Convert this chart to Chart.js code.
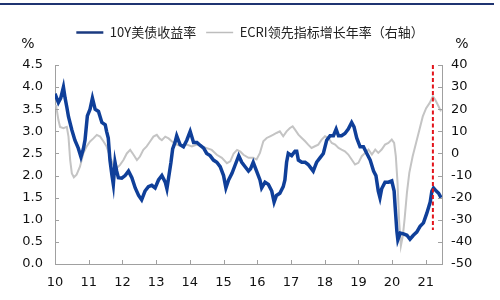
<!DOCTYPE html>
<html><head><meta charset="utf-8">
<script src="https://cdn.jsdelivr.net/npm/chart.js@4"></script>
<style>html,body{margin:0;padding:0;background:#fff;}#wrap{width:500px;height:300px;position:relative;}</style>
</head><body><div id="wrap"><canvas id="c" width="500" height="300"></canvas></div>
<script>
const seriesNames = ['10Y美债收益率', 'ECRI领先指标增长年率（右轴）'];
const yearTicks = [2010,2011,2012,2013,2014,2015,2016,2017,2018,2019,2020,2021];
const leftTicks = [0,0.5,1,1.5,2,2.5,3,3.5,4,4.5];
const rightTicks = [-50,-40,-30,-20,-10,0,10,20,30,40];
const markerYear = 2021.21;
const markerRange = [4.5, 0.77];

const blueYears = [2010.00,2010.05,2010.10,2010.17,2010.25,2010.30,2010.35,2010.40,2010.50,2010.59,2010.69,2010.77,2010.84,2010.89,2010.96,2011.04,2011.11,2011.19,2011.29,2011.39,2011.49,2011.53,2011.58,2011.63,2011.69,2011.73,2011.78,2011.83,2011.88,2011.98,2012.08,2012.18,2012.28,2012.38,2012.48,2012.57,2012.67,2012.77,2012.87,2012.97,2013.07,2013.17,2013.27,2013.32,2013.37,2013.44,2013.49,2013.56,2013.61,2013.71,2013.81,2013.91,2014.01,2014.11,2014.21,2014.31,2014.41,2014.50,2014.60,2014.70,2014.80,2014.90,2015.00,2015.07,2015.15,2015.25,2015.35,2015.45,2015.54,2015.64,2015.74,2015.80,2015.88,2015.98,2016.08,2016.13,2016.23,2016.33,2016.43,2016.50,2016.57,2016.67,2016.77,2016.82,2016.87,2016.92,2017.02,2017.12,2017.17,2017.22,2017.32,2017.42,2017.51,2017.61,2017.66,2017.76,2017.86,2017.96,2018.06,2018.16,2018.26,2018.34,2018.41,2018.50,2018.60,2018.70,2018.80,2018.87,2018.95,2019.05,2019.15,2019.25,2019.35,2019.45,2019.52,2019.59,2019.64,2019.69,2019.79,2019.89,2019.99,2020.06,2020.09,2020.14,2020.17,2020.24,2020.34,2020.44,2020.53,2020.63,2020.73,2020.83,2020.93,2021.03,2021.13,2021.18,2021.23,2021.31,2021.38,2021.45];
const blueValues = [3.85,3.75,3.65,3.75,4.0,3.75,3.55,3.33,3.03,2.8,2.62,2.42,2.6,2.8,3.35,3.5,3.75,3.5,3.45,3.2,3.15,3.0,2.85,2.35,2.0,1.8,2.3,2.1,1.95,1.94,2.0,2.1,1.95,1.72,1.55,1.45,1.65,1.75,1.78,1.72,1.9,2.0,1.85,1.7,1.95,2.3,2.6,2.75,2.9,2.7,2.65,2.8,3.0,2.75,2.75,2.68,2.62,2.5,2.45,2.35,2.3,2.2,2.0,1.72,1.9,2.05,2.25,2.45,2.3,2.2,2.1,2.15,2.3,2.1,1.9,1.72,1.85,1.8,1.65,1.4,1.55,1.6,1.75,1.9,2.3,2.5,2.45,2.55,2.55,2.35,2.3,2.3,2.25,2.15,2.1,2.3,2.4,2.5,2.8,2.9,2.9,3.05,2.9,2.9,2.95,3.05,3.2,3.1,2.85,2.65,2.65,2.5,2.35,2.1,2.0,1.65,1.5,1.7,1.85,1.85,1.88,1.65,1.3,0.75,0.55,0.7,0.68,0.65,0.56,0.65,0.72,0.85,0.93,1.15,1.4,1.65,1.72,1.65,1.6,1.5];

const grayYears = [2010.03,2010.10,2010.15,2010.25,2010.35,2010.40,2010.45,2010.50,2010.56,2010.64,2010.74,2010.84,2010.94,2011.04,2011.14,2011.24,2011.34,2011.44,2011.53,2011.63,2011.73,2011.83,2011.93,2012.03,2012.13,2012.23,2012.33,2012.43,2012.52,2012.62,2012.72,2012.82,2012.92,2013.02,2013.10,2013.17,2013.27,2013.37,2013.47,2013.61,2013.76,2013.91,2014.06,2014.21,2014.36,2014.50,2014.65,2014.80,2014.95,2015.10,2015.20,2015.30,2015.40,2015.50,2015.59,2015.74,2015.88,2015.98,2016.08,2016.18,2016.28,2016.38,2016.48,2016.57,2016.67,2016.77,2016.87,2016.97,2017.05,2017.12,2017.22,2017.32,2017.42,2017.51,2017.61,2017.71,2017.81,2017.91,2018.01,2018.11,2018.21,2018.31,2018.41,2018.50,2018.60,2018.70,2018.80,2018.90,2019.00,2019.10,2019.20,2019.30,2019.40,2019.50,2019.59,2019.69,2019.79,2019.89,2019.99,2020.06,2020.11,2020.16,2020.21,2020.26,2020.32,2020.37,2020.44,2020.51,2020.61,2020.71,2020.81,2020.91,2021.01,2021.11,2021.21,2021.28,2021.38,2021.45];
const grayValues = [22,15.2,12,11.4,12,7.6,-3,-9,-10.8,-9.6,-6,0,3.2,5.4,6.8,8.4,7.6,5.4,3.2,-1.4,-5.2,-6.6,-5.2,-3,0,1.6,-0.6,-3,-1.4,1.6,3.2,5.4,7.6,8.4,6.8,6,7.6,6.8,5.4,4,3.2,4,3.2,4,3.2,2.4,1.6,-0.6,-2,-4.4,-3.6,0,1.6,0.8,-0.6,-2,-2,-2.75,0.25,5.5,7,7.75,8.5,9.25,10,7.75,10,11.5,12.25,10.75,8.5,7,5.5,4,2.5,3.25,4,6.25,7.75,7,4.75,4,2.5,1.75,1,-0.5,-2.75,-5,-4.25,-1.25,0.25,1.75,-0.5,1.75,0.25,1.75,4,4.75,6.25,4.75,-1.25,-13,-31,-41.75,-37,-29.75,-17.75,-8.75,-1.25,4.75,10.75,16.75,20.5,22.75,25.75,24.25,21.25,19];

const pts = (xs, ys) => xs.map((x, i) => ({x, y: ys[i]}));
const tickFont = {family: 'DejaVu Sans', size: 13};
const textColor = '#111';
const axisColor = '#a0a0a0';

const deco = {
  id: 'deco',
  beforeInit(chart) {
    const lg = chart.legend;
    const orig = lg.fit;
    lg.fit = function () { orig.call(this); this.height = 49; };
  },
  afterDraw(chart) {
    const ctx = chart.ctx, a = chart.chartArea, s = chart.scales;
    ctx.save();
    ctx.strokeStyle = '#1f3471'; ctx.lineWidth = 2;
    ctx.beginPath(); ctx.moveTo(0, 4); ctx.lineTo(494, 4); ctx.stroke();
    ctx.strokeStyle = axisColor; ctx.lineWidth = 1;
    ctx.beginPath();
    yearTicks.forEach(v => { const px = Math.round(s.x.getPixelForValue(v)) + 0.5; ctx.moveTo(px, a.bottom); ctx.lineTo(px, a.bottom - 4); });
    leftTicks.forEach(v => { const py = Math.round(s.y.getPixelForValue(v)) + 0.5; ctx.moveTo(a.left, py); ctx.lineTo(a.left + 4, py); });
    rightTicks.forEach(v => { const py = Math.round(s.y2.getPixelForValue(v)) + 0.5; ctx.moveTo(a.right, py); ctx.lineTo(a.right - 4, py); });
    ctx.stroke();
    ctx.fillStyle = textColor; ctx.font = '14px "DejaVu Sans"'; ctx.textAlign = 'center'; ctx.textBaseline = 'middle';
    ctx.fillText('%', 28, 44); ctx.fillText('%', 462, 44);
    ctx.restore();
  }
};

const legendLineWidths = [2.5, 1.5];

new Chart(document.getElementById('c'), {
  type: 'line',
  data: {
    datasets: [
      {label: 'marker', data: pts([markerYear, markerYear], markerRange), yAxisID: 'y', borderColor: '#e3141b', borderWidth: 2, borderDash: [4, 2.5], pointRadius: 0, order: 0},
      {label: seriesNames[0], data: pts(blueYears, blueValues), yAxisID: 'y', borderColor: '#0f3f99', backgroundColor: '#1a3a80', borderWidth: 3.5, pointRadius: 0, pointStyle: 'line', tension: 0, order: 1},
      {label: seriesNames[1], data: pts(grayYears, grayValues), yAxisID: 'y2', borderColor: '#c4c4c4', backgroundColor: '#bdbdbd', borderWidth: 2, pointRadius: 0, pointStyle: 'line', tension: 0, order: 2}
    ]
  },
  options: {
    responsive: false, animation: false,
    layout: {padding: {top: 16, left: 0, right: 0, bottom: 0}},
    plugins: {
      tooltip: {enabled: false},
      legend: {
        position: 'top',
        labels: {
          usePointStyle: true, pointStyleWidth: 27, boxHeight: 13, padding: 10, color: '#222',
          font: {family: '"Noto Sans CJK SC"', size: 13},
          filter: (item) => item.text !== 'marker',
          generateLabels: (chart) => Chart.defaults.plugins.legend.labels.generateLabels(chart).map(l => {
            const n = seriesNames.indexOf(l.text);
            if (n >= 0) { l.lineWidth = legendLineWidths[n]; l.strokeStyle = n === 0 ? '#1a3a80' : '#bdbdbd'; l.pointStyle = 'line'; l.lineDash = []; }
            return l;
          })
        }
      }
    },
    scales: {
      x: {
        type: 'linear', min: 2010, max: 2021.48,
        afterBuildTicks: (s) => { s.ticks = yearTicks.map(v => ({value: v})); },
        afterFit: (s) => { s.height = 36; },
        grid: {display: false, drawTicks: false},
        border: {display: true, color: axisColor},
        ticks: {padding: 11, color: textColor, font: tickFont, maxRotation: 0, autoSkip: false, callback: (v) => String(v).slice(2)}
      },
      y: {
        position: 'left', min: 0, max: 4.5,
        afterBuildTicks: (s) => { s.ticks = leftTicks.map(v => ({value: v})); },
        afterFit: (s) => { s.width = 55; },
        grid: {display: false, drawTicks: false},
        border: {display: true, color: axisColor},
        ticks: {padding: 12, color: textColor, font: tickFont, callback: (v) => Number(v).toFixed(1)}
      },
      y2: {
        position: 'right', min: -50, max: 40,
        afterBuildTicks: (s) => { s.ticks = rightTicks.map(v => ({value: v})); },
        afterFit: (s) => { s.width = 58; },
        grid: {display: false, drawTicks: false},
        border: {display: true, color: axisColor},
        ticks: {padding: 9, color: textColor, font: tickFont, callback: (v) => String(v)}
      }
    }
  },
  plugins: [deco]
});
</script></body></html>
